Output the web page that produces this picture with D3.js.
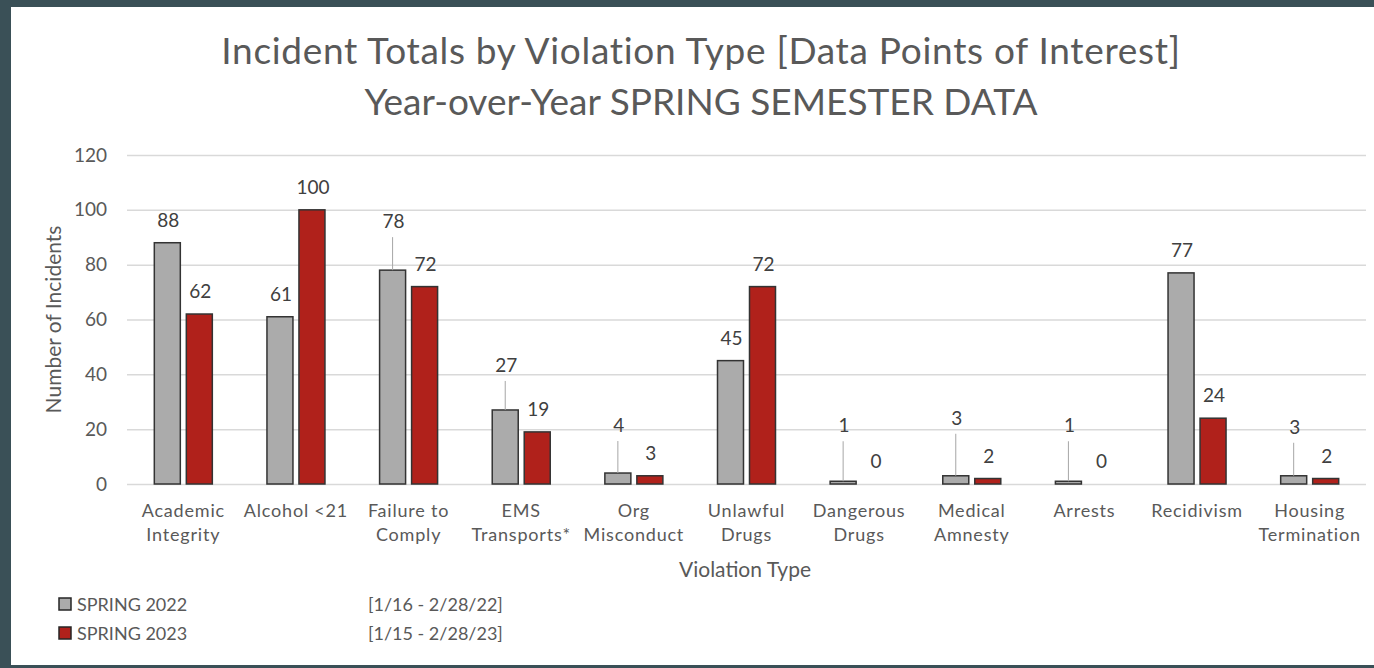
<!DOCTYPE html>
<html>
<head>
<meta charset="utf-8">
<script src="https://cdn.jsdelivr.net/npm/d3@7"></script>
<style>
  html, body { margin: 0; padding: 0; background: #3a5057; }
  #chart { width: 1374px; height: 668px; }
</style>
</head>
<body>
<div id="chart"></div>
<script>
// chart data
var categories = ["Academic\nIntegrity", "Alcohol <21", "Failure to\nComply", "EMS\nTransports*", "Org\nMisconduct",
    "Unlawful\nDrugs", "Dangerous\nDrugs", "Medical\nAmnesty", "Arrests", "Recidivism", "Housing\nTermination"];
var spring2022 = [88, 61, 78, 27, 4, 45, 1, 3, 1, 77, 3];
var spring2023 = [62, 100, 72, 19, 3, 72, 0, 2, 0, 24, 2];
var seriesNames = ["SPRING 2022", "SPRING 2023"];
var seriesRanges = ["[1/16 - 2/28/22]", "[1/15 - 2/28/23]"];
var yTicks = [0, 20, 40, 60, 80, 100, 120];

// labels that were dragged up in the original, with a leader line (extra lift in px)
var leaderLift = { 2: 26, 3: 22, 4: 25, 6: 33, 7: 35, 8: 33, 10: 26 };

var W = 1374, H = 668;
var margin = { top: 155, right: 8, bottom: 184, left: 127 };
var width = W - margin.left - margin.right,
    height = H - margin.top - margin.bottom;
var font = "Lato, 'Open Sans', sans-serif";
var textColor = "#595959";
var colors = ["#ababab", "#b0211b"];

var svg = d3.select("#chart").append("svg")
    .attr("width", W)
    .attr("height", H);

// white slide panel
svg.append("rect")
    .attr("x", 11).attr("y", 7)
    .attr("width", W - 11).attr("height", 658)
    .attr("fill", "#ffffff");

// titles
var titles = ["Incident Totals by Violation Type [Data Points of Interest]", "Year-over-Year SPRING SEMESTER DATA"];
svg.selectAll(".title")
    .data(titles)
    .enter().append("text")
    .attr("class", "title")
    .attr("x", 701)
    .attr("y", function (d, i) { return 64 + i * 51; })
    .attr("text-anchor", "middle")
    .style("font-family", font)
    .style("font-size", "37px")
    .style("letter-spacing", function (d, i) { return i === 0 ? "0.7px" : "0px"; })
    .style("fill", textColor)
    .text(function (d) { return d; });

var g = svg.append("g")
    .attr("transform", "translate(" + margin.left + "," + margin.top + ")");

var x0 = d3.scaleBand().domain(d3.range(categories.length)).range([0, width]).paddingInner(0.485).paddingOuter(0.2425);
var x1 = d3.scaleBand().domain([0, 1]).range([0, x0.bandwidth()]).paddingInner(0.1875);
var y = d3.scaleLinear().domain([0, 120]).range([height, 0]);

// gridlines
var yAxis = g.append("g")
    .call(d3.axisLeft(y).tickValues(yTicks).tickSize(-width).tickPadding(20));
yAxis.select(".domain").remove();
yAxis.selectAll("line").style("stroke", "#d9d9d9").style("stroke-width", 1.5);
yAxis.selectAll("text")
    .style("font-family", font)
    .style("font-size", "19px")
    .style("fill", textColor);

// bars
var rows = categories.map(function (c, i) { return { i: i, vals: [spring2022[i], spring2023[i]] }; });
var groups = g.selectAll(".grp")
    .data(rows)
    .enter().append("g")
    .attr("class", "grp")
    .attr("transform", function (d) { return "translate(" + x0(d.i) + ",0)"; });

groups.selectAll("rect")
    .data(function (d) { return d.vals.map(function (v, s) { return { i: d.i, s: s, v: v }; }); })
    .enter().append("rect")
    .attr("x", function (d) { return x1(d.s); })
    .attr("y", function (d) { return y(d.v); })
    .attr("width", x1.bandwidth())
    .attr("height", function (d) { return height - y(d.v); })
    .attr("fill", function (d) { return colors[d.s]; })
    .attr("stroke", "#333333")
    .attr("stroke-width", function (d) { return d.v > 0 ? 1.5 : 0; });

// data labels
var labels = groups.selectAll(".lbl")
    .data(function (d) { return d.vals.map(function (v, s) { return { i: d.i, s: s, v: v }; }); })
    .enter().append("g").attr("class", "lbl");

function lift(d) { return (d.s === 0 && leaderLift[d.i]) ? leaderLift[d.i] : 0; }

labels.filter(function (d) { return lift(d) > 0; })
    .append("line")
    .attr("x1", function (d) { return x1(d.s) + x1.bandwidth() / 2; })
    .attr("x2", function (d) { return x1(d.s) + x1.bandwidth() / 2; })
    .attr("y1", function (d) { return y(d.v) - 16 - lift(d) + 9; })
    .attr("y2", function (d) { return y(d.v); })
    .attr("stroke", "#a6a6a6")
    .attr("stroke-width", 1);

labels.append("text")
    .attr("x", function (d) { return x1(d.s) + x1.bandwidth() / 2 + 1; })
    .attr("y", function (d) { return y(d.v) - 16 - lift(d); })
    .attr("text-anchor", "middle")
    .style("font-family", font)
    .style("font-size", "19px")
    .style("fill", "#404040")
    .text(function (d) { return d.v; });

// x axis labels
var xl = g.selectAll(".xl")
    .data(categories)
    .enter().append("text")
    .attr("class", "xl")
    .attr("x", function (d, i) { return x0(i) + x0.bandwidth() / 2; })
    .attr("y", height + 33)
    .attr("text-anchor", "middle")
    .style("font-family", font)
    .style("font-size", "18px")
    .style("letter-spacing", "0.8px")
    .style("fill", textColor);
xl.selectAll("tspan")
    .data(function (d) { return d.split("\n"); })
    .enter().append("tspan")
    .attr("x", function () { return d3.select(this.parentNode).attr("x"); })
    .attr("dy", function (d, i) { return i === 0 ? 0 : 24; })
    .text(function (d) { return d; });

// axis titles
svg.append("text")
    .attr("x", 745)
    .attr("y", 577)
    .attr("text-anchor", "middle")
    .style("font-family", font)
    .style("font-size", "21px")
    .style("fill", textColor)
    .text("Violation Type");

g.append("text")
    .attr("transform", "translate(" + (-66) + "," + (height / 2) + ") rotate(-90)")
    .attr("text-anchor", "middle")
    .style("font-family", font)
    .style("font-size", "21px")
    .style("fill", textColor)
    .text("Number of Incidents");

// legend
var legend = svg.selectAll(".leg")
    .data(seriesNames)
    .enter().append("g")
    .attr("class", "leg")
    .attr("transform", function (d, i) { return "translate(59," + (598 + i * 29) + ")"; });
legend.append("rect")
    .attr("width", 12).attr("height", 12)
    .attr("fill", function (d, i) { return colors[i]; })
    .attr("stroke", "#262626").attr("stroke-width", 1.5);
legend.append("text")
    .attr("x", 18).attr("y", 13)
    .style("font-family", font)
    .style("font-size", "18px")
    .style("fill", textColor)
    .text(function (d) { return d; });
legend.append("text")
    .attr("x", 309).attr("y", 13)
    .style("font-family", font)
    .style("font-size", "18px")
    .style("fill", textColor)
    .text(function (d, i) { return seriesRanges[i]; });
</script>
</body>
</html>
